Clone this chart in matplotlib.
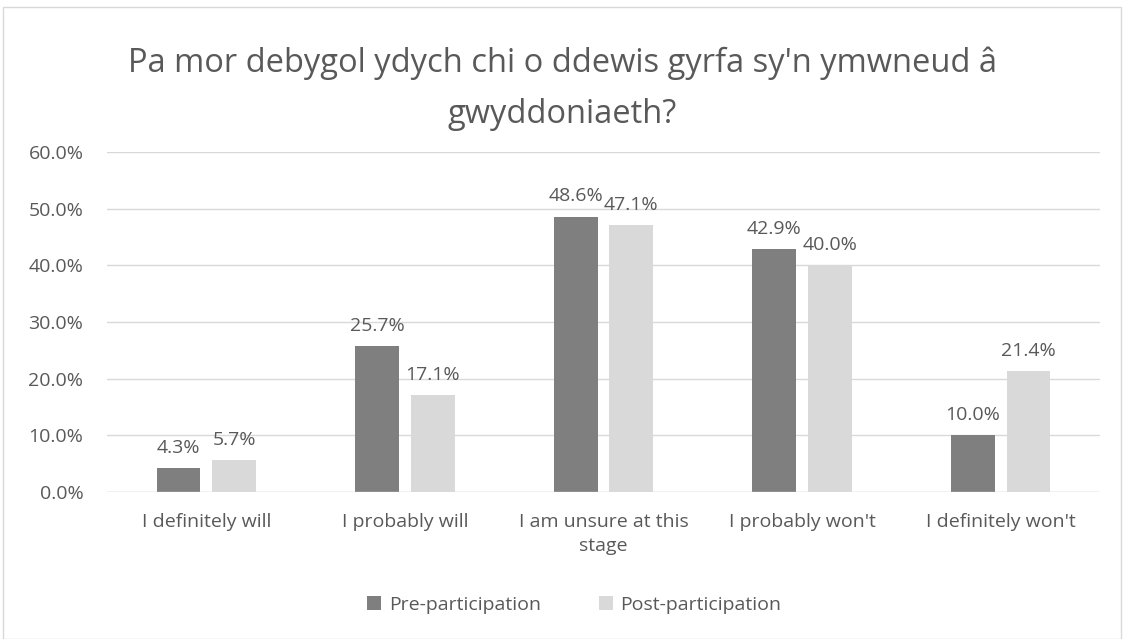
import numpy as np
import matplotlib
matplotlib.use("Agg")
import matplotlib.pyplot as plt
from matplotlib.patches import Rectangle
from matplotlib.ticker import PercentFormatter

# Data
categories = ["I definitely will", "I probably will", "I am unsure at this\nstage",
              "I probably won't", "I definitely won't"]
pre_values = [4.3, 25.7, 48.6, 42.9, 10.0]
post_values = [5.7, 17.1, 47.1, 40.0, 21.4]
series_names = ["Pre-participation", "Post-participation"]
title = "Pa mor debygol ydych chi o ddewis gyrfa sy'n ymwneud â\ngwyddoniaeth?"

TEXT = "#595959"
GRID = "#D9D9D9"
PRE_COLOR = "#7F7F7F"
POST_COLOR = "#D9D9D9"

plt.rcParams["font.family"] = ["Open Sans", "DejaVu Sans"]

fig = plt.figure(figsize=(11.24, 6.39), dpi=100)
# chart border
fig.patches.append(Rectangle((3 / 1124, 0), 1118 / 1124, 632 / 639,
                             transform=fig.transFigure, fill=False,
                             edgecolor=GRID, linewidth=1))

ax = fig.add_axes([107 / 1124, 1 - 492 / 639, 993 / 1124, 340 / 639])

x = np.arange(len(categories))
width = 0.22
gap = 0.06
off = (width + gap) / 2
bars_pre = ax.bar(x - off, pre_values, width, color=PRE_COLOR, label=series_names[0])
bars_post = ax.bar(x + off, post_values, width, color=POST_COLOR, label=series_names[1])

for bars in (bars_pre, bars_post):
    for b in bars:
        ax.annotate(f"{b.get_height():.1f}%", (b.get_x() + b.get_width() / 2, b.get_height()),
                    xytext=(0, 8), textcoords="offset points", ha="center", va="bottom",
                    fontsize=14, color=TEXT)

ax.set_xlim(-0.5, len(categories) - 0.5)
ax.set_ylim(0, 60)
ax.set_yticks(np.arange(0, 61, 10))
ax.yaxis.set_major_formatter(PercentFormatter(decimals=1))
ax.set_xticks(x)
ax.set_xticklabels(categories)
for lbl in ax.get_xticklabels():
    lbl.set_linespacing(1.45)
ax.tick_params(axis="both", length=0, labelsize=14, labelcolor=TEXT)
ax.tick_params(axis="y", pad=17)
ax.tick_params(axis="x", pad=15)
ax.grid(axis="y", color=GRID, linewidth=1)
ax.set_axisbelow(True)
for s in ax.spines.values():
    s.set_visible(False)
ax.axhline(0, color=GRID, linewidth=1)

fig.text(0.5, 1 - 89 / 639, title, ha="center", va="center", fontsize=23.5,
         color=TEXT, linespacing=1.7)

fig.legend(handles=[bars_pre, bars_post], loc="center", bbox_to_anchor=(0.511, 1 - 605 / 639),
           ncol=2, frameon=False, fontsize=14, labelcolor=TEXT, handlelength=0.7,
           handleheight=0.7, handletextpad=0.4, columnspacing=3.0)

fig.savefig("out.png", dpi=100)
